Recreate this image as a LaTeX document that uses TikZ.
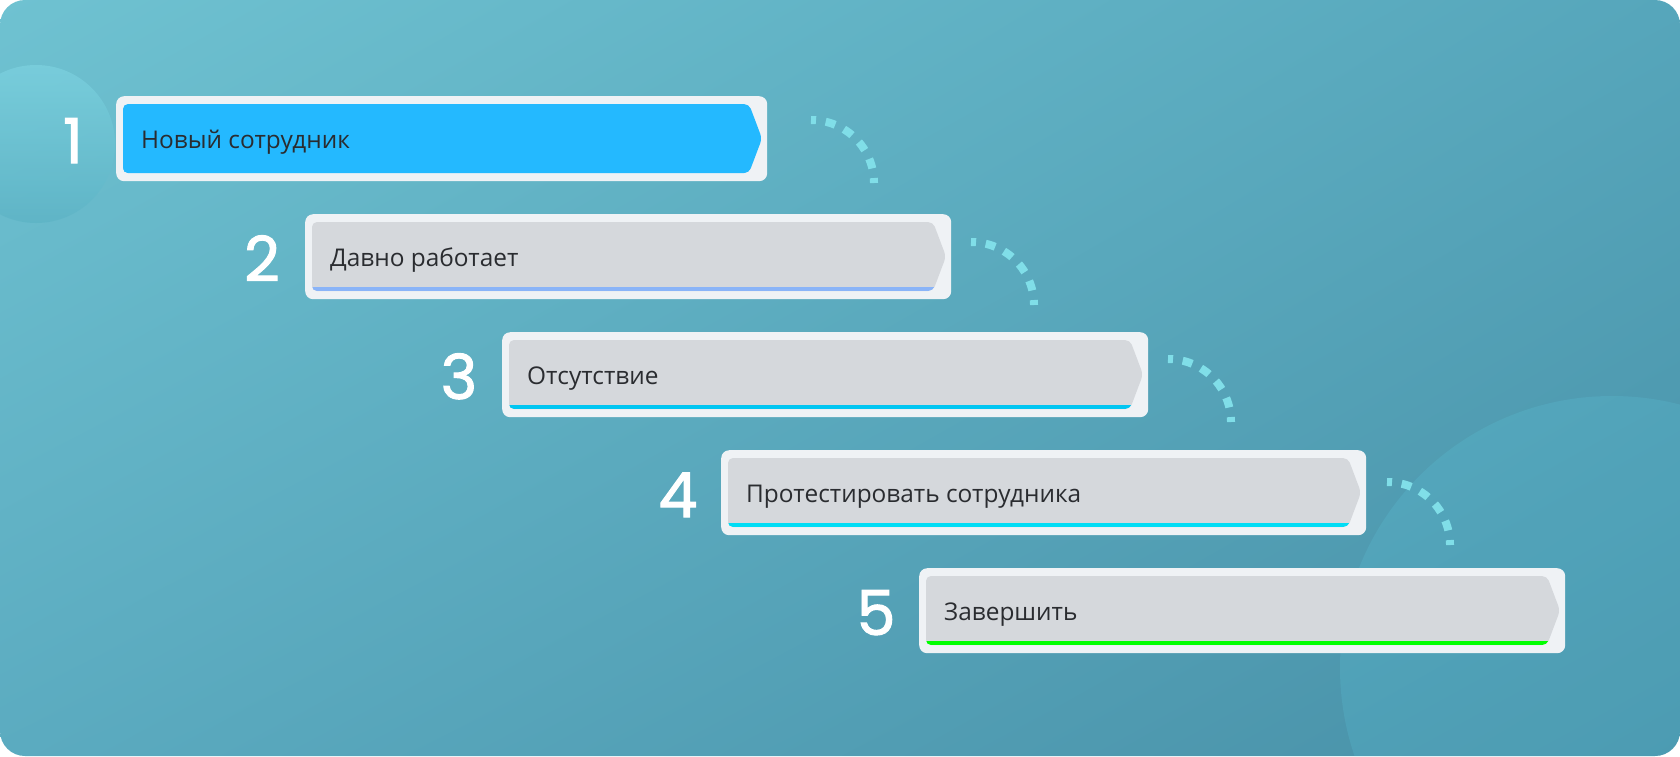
\documentclass[tikz,border=0pt]{standalone}
\usepackage{fontspec}
\setmainfont{Open Sans}
\newfontfamily\numfont[FakeBold=1.6]{Poppins}
\usetikzlibrary{calc,shadings}
\definecolor{bgA}{HTML}{6FC2D1}
\definecolor{bgB}{HTML}{56A6BB}
\definecolor{bgC}{HTML}{5BABC0}
\definecolor{bgD}{HTML}{4890A7}
\definecolor{outerc}{HTML}{EFF2F5}
\definecolor{innerg}{HTML}{D5D8DC}
\definecolor{innerb}{HTML}{24B9FF}
\definecolor{lineA}{HTML}{8AB4F8}
\definecolor{lineB}{HTML}{00C6F2}
\definecolor{lineC}{HTML}{00DDF5}
\definecolor{lineD}{HTML}{00FF00}
\definecolor{dotc}{HTML}{80DEE8}
\definecolor{txtc}{HTML}{2A2C30}
\definecolor{circA}{HTML}{7ACFDD}
\definecolor{circB}{HTML}{5EB4C6}
\definecolor{circR}{HTML}{5EC6DC}
\tikzset{
  outerbox/.style={fill=outerc, rounded corners=8pt, inner sep=0pt, anchor=north west},
  lbl/.style={text=txtc, font=\fontsize{24.4}{28}\selectfont, inner sep=0pt, anchor=base west},
  numlbl/.style={text=white, font=\numfont\fontsize{62}{64}\selectfont, inner sep=0pt, anchor=base},
  dotarc/.style={draw=dotc, line width=8pt, dash pattern=on 10pt off 9.8pt, dash phase=5pt},
}
\newcommand\drawstep[8]{%
  \pgfmathsetmacro\stW{#4-#2}%
  \pgfmathsetmacro\stB{#3+85}%
  \node[outerbox, minimum width=\stW pt, minimum height=85pt] (box#1) at (#2,#3) {};
  \begin{scope}
    \clip[rounded corners=5pt] (#2+7,#3+8) -- (#4-18,#3+8) -- (#4-5,#3+42.5) -- (#4-18,\stB-8) -- (#2+7,\stB-8) -- cycle;
    \fill[#5] (#2,#3) rectangle (#4,\stB);
    \fill[#6] (#2,\stB-12.5) rectangle (#4,\stB-8);
  \end{scope}
  \node[lbl] (txt#1) at (#2+25,#3+52.5) {#7};
  \node[numlbl] (num#1) at (#2-43,#3+67) {#8};
}
\begin{document}
\begin{tikzpicture}[x=1pt,y=-1pt]
\useasboundingbox (0,0) rectangle (1680,756);
\fill[white] (0,0) rectangle (1680,756);
\begin{scope}
  \clip[rounded corners=25pt] (0,0) rectangle (1680,756);
  \shade[upper left=bgA, upper right=bgB, lower left=bgC, lower right=bgD] (0,0) rectangle (1680,756);
  \shade[top color=circA, bottom color=circB, opacity=0.85] (36,144) circle[radius=79pt];
  \fill[circR, opacity=0.22] (1612,668) circle[radius=272pt];
\end{scope}
\drawstep{1}{116}{96}{767}{innerb}{innerb}{Новый сотрудник}{1}
\drawstep{2}{305}{214}{951}{innerg}{lineA}{Давно работает}{2}
\drawstep{3}{502}{332}{1148}{innerg}{lineB}{Отсутствие}{3}
\drawstep{4}{721}{450}{1366}{innerg}{lineC}{Протестировать сотрудника}{4}
\drawstep{5}{919}{568}{1565}{innerg}{lineD}{Завершить}{5}
\coordinate (a1) at (811,120);
\coordinate (a2) at (971,242);
\coordinate (a3) at (1168,359);
\coordinate (a4) at (1387,482);
\draw[dotarc] (a1) arc[start angle=90, end angle=0, radius=63pt];
\draw[dotarc] (a2) arc[start angle=90, end angle=0, radius=63pt];
\draw[dotarc] (a3) arc[start angle=90, end angle=0, radius=63pt];
\draw[dotarc] (a4) arc[start angle=90, end angle=0, radius=63pt];
\end{tikzpicture}
\end{document}
